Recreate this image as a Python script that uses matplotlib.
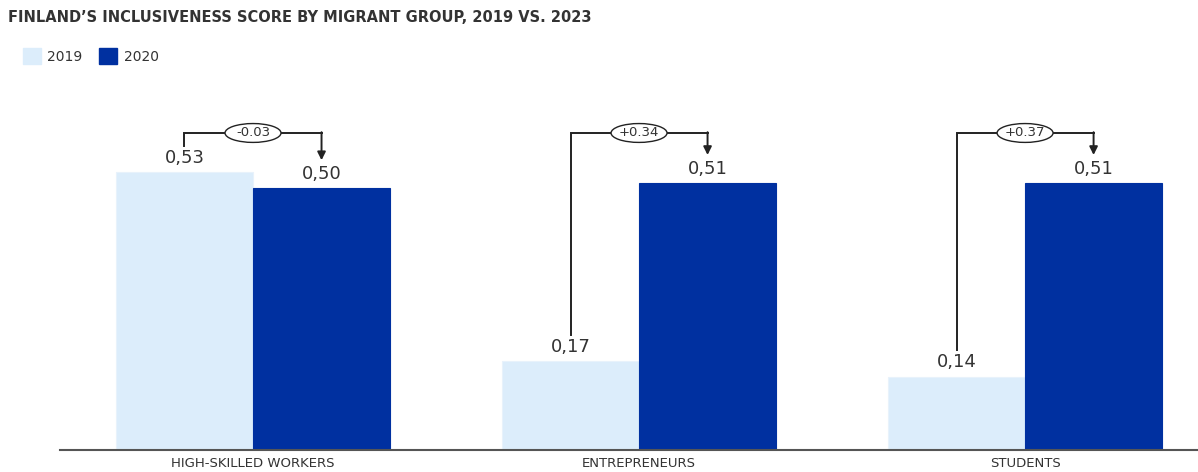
import matplotlib as mpl
import matplotlib.pyplot as plt
from matplotlib.patches import Ellipse, Patch
import numpy as np

mpl.rcParams['font.family'] = 'DejaVu Sans'

# data
groups = ['HIGH-SKILLED WORKERS', 'ENTREPRENEURS', 'STUDENTS']
score_2019 = [0.53, 0.17, 0.14]
score_2020 = [0.50, 0.51, 0.51]
value_labels_2019 = ['0,53', '0,17', '0,14']
value_labels_2020 = ['0,50', '0,51', '0,51']

light = '#dcedfb'
dark = '#0030a0'
txt = '#333333'

fig = plt.figure(figsize=(11.98, 4.72), dpi=100)
ax = fig.add_axes([60/1198, 22/472, 1138/1198, 350/472])

x = np.arange(len(groups))
w = 0.355
ax.bar(x - w/2, score_2019, w, color=light, edgecolor='#e8f2fb', linewidth=0.8)
ax.bar(x + w/2, score_2020, w, color=dark, edgecolor=dark, linewidth=0.8)

ax.set_xlim(-0.5, 2.448)
ax.set_ylim(0, 350/524)

for i in range(len(groups)):
    ax.text(x[i] - w/2, score_2019[i] + 0.01, value_labels_2019[i], ha='center', va='bottom',
            fontsize=13, color=txt)
    ax.text(x[i] + w/2, score_2020[i] + 0.01, value_labels_2020[i], ha='center', va='bottom',
            fontsize=13, color=txt)

    # bracket showing the change
    top = 0.605
    x0, x1 = x[i] - w/2, x[i] + w/2
    ax.plot([x0, x0, x1], [score_2019[i] + 0.05, top, top], color='#222222', lw=1.4,
            solid_joinstyle='miter')
    ax.annotate('', xy=(x1, score_2020[i] + 0.053), xytext=(x1, top + 0.0015),
                arrowprops=dict(arrowstyle='-|>', color='#222222', lw=1.4,
                                mutation_scale=12, shrinkA=0, shrinkB=0))
    ax.add_patch(Ellipse((x[i], top), 0.145, 0.036, facecolor='white',
                         edgecolor='#222222', lw=1.0, zorder=5))
    diff = score_2020[i] - score_2019[i]
    ax.text(x[i], top, '{:+.2f}'.format(diff), ha='center', va='center',
            fontsize=9.5, color=txt, zorder=6)

for s in ['top', 'right', 'left']:
    ax.spines[s].set_visible(False)
ax.spines['bottom'].set_color('#555555')
ax.spines['bottom'].set_linewidth(1.5)
ax.set_yticks([])
ax.set_xticks(x)
ax.set_xticklabels(groups, fontsize=9.5, color=txt)
ax.tick_params(axis='x', length=0, pad=5)

fig.text(8/1198, 1 - 17/472, "FINLAND\u2019S INCLUSIVENESS SCORE BY MIGRANT GROUP, 2019 VS. 2023",
         fontsize=10.5, fontweight='bold', color=txt, va='center', ha='left')

handles = [Patch(facecolor=light, edgecolor=light), Patch(facecolor=dark, edgecolor=dark)]
fig.legend(handles, ['2019', '2020'], loc='center left', bbox_to_anchor=(10/1198, 1 - 56/472),
           ncol=2, frameon=False, fontsize=10, handlelength=1.3, handleheight=1.3,
           handletextpad=0.5, columnspacing=1.2, labelcolor=txt)

fig.savefig('out.png', dpi=100)
